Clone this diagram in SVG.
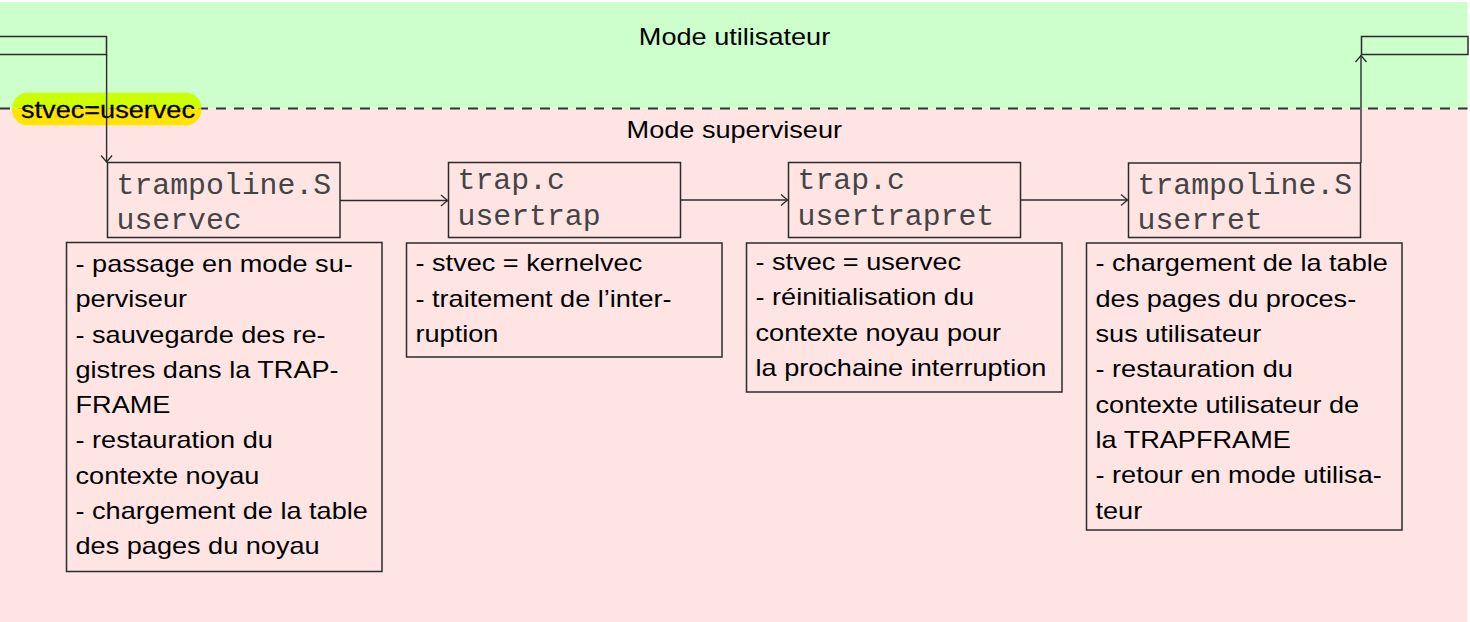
<svg xmlns="http://www.w3.org/2000/svg" width="1470" height="622" viewBox="0 0 1470 622">
<style>
.t{font-family:"Liberation Sans",Arial,Helvetica,sans-serif;font-size:24px;fill:#000}
.m{font-family:"Liberation Mono","Courier New",monospace;font-size:29.8px;fill:#444}
.box{fill:none;stroke:#2b2b2b;stroke-width:1.5}
.cn{fill:none;stroke:#2b2b2b;stroke-width:1.4}
.lab{font-family:"Liberation Sans",Arial,Helvetica,sans-serif;font-size:24px;fill:#000;stroke:#000;stroke-width:0.25}
</style>
<defs>
<marker id="ah" viewBox="-9 -7 11 14" markerWidth="11" markerHeight="14" refX="0" refY="0" orient="auto" markerUnits="userSpaceOnUse">
<path d="M-6.5,-5.5 L0,0 L-6.5,5.5" fill="none" stroke="#2b2b2b" stroke-width="1.3"/>
</marker>
<clipPath id="labclip"><rect x="12" y="92.5" width="189.5" height="33" rx="16" ry="16"/></clipPath>
</defs>

<g id="backgrounds">
<rect x="0" y="2" width="1467.5" height="106.5" fill="#ccffcc"/>
<rect x="0" y="108.5" width="1467.5" height="513.5" fill="#ffe4e4"/>
<line x1="0" y1="108.5" x2="1467.5" y2="108.5" stroke="#333" stroke-width="1.8" stroke-dasharray="10 8"/>
</g>

<g id="title-user"><g transform="translate(734.5,0) scale(1.13,1)"><text class="t" x="0" y="45.5" text-anchor="middle">Mode utilisateur</text></g></g>
<g id="title-super"><g transform="translate(734.3,0) scale(1.13,1)"><text class="t" x="0" y="138.3" text-anchor="middle">Mode superviseur</text></g></g>

<g id="user-left"><rect class="box" x="-1" y="36.5" width="107.5" height="18"/></g>
<g id="user-right"><rect class="box" x="1361.5" y="36.5" width="106.5" height="18"/></g>

<g id="label-stvec">
<g clip-path="url(#labclip)">
<rect x="12" y="92.5" width="189.5" height="16" fill="#ccff00"/>
<rect x="12" y="108.5" width="189.5" height="17" fill="#ffe400"/>
</g>
</g>

<g id="connectors">
<line class="cn" x1="106.6" y1="54.5" x2="106.6" y2="162" marker-end="url(#ah)"/>
<line class="cn" x1="340" y1="200.5" x2="447.5" y2="200.5" marker-end="url(#ah)"/>
<line class="cn" x1="680.5" y1="200" x2="787.5" y2="200" marker-end="url(#ah)"/>
<line class="cn" x1="1020.5" y1="200" x2="1127.5" y2="200" marker-end="url(#ah)"/>
<line class="cn" x1="1361" y1="163" x2="1361" y2="55.5" marker-end="url(#ah)"/>
</g>

<g id="label-stvec-text"><g transform="translate(21,0) scale(1.13,1)"><text class="lab" x="0" y="118.3">stvec=uservec</text></g></g>

<g id="node-uservec">
<rect class="box" x="107.5" y="162.5" width="232.5" height="75"/>
<text class="m" x="116.5" y="193.5">trampoline.S</text>
<text class="m" x="116.5" y="228.5">uservec</text>
</g>
<g id="node-usertrap">
<rect class="box" x="448.5" y="162.5" width="232" height="75"/>
<text class="m" x="457.5" y="189">trap.c</text>
<text class="m" x="457.5" y="224.5">usertrap</text>
</g>
<g id="node-usertrapret">
<rect class="box" x="788.5" y="162.5" width="232" height="75"/>
<text class="m" x="797.5" y="189">trap.c</text>
<text class="m" x="797.5" y="224.5">usertrapret</text>
</g>
<g id="node-userret">
<rect class="box" x="1128.5" y="163" width="232" height="74.5"/>
<text class="m" x="1137.5" y="193.5">trampoline.S</text>
<text class="m" x="1137.5" y="228.5">userret</text>
</g>

<g id="desc-uservec">
<rect class="box" x="66.5" y="242.5" width="315.5" height="329"/>
<g transform="translate(75.5,0) scale(1.13,1)">
<text class="t" x="0" y="272">- passage en mode su-</text>
<text class="t" x="0" y="307.3">perviseur</text>
<text class="t" x="0" y="342.6">- sauvegarde des re-</text>
<text class="t" x="0" y="377.9">gistres dans la TRAP-</text>
<text class="t" x="0" y="413.2">FRAME</text>
<text class="t" x="0" y="448.5">- restauration du</text>
<text class="t" x="0" y="483.8">contexte noyau</text>
<text class="t" x="0" y="519.1">- chargement de la table</text>
<text class="t" x="0" y="554.4">des pages du noyau</text>
</g>
</g>

<g id="desc-usertrap">
<rect class="box" x="406.5" y="243" width="315.5" height="114"/>
<g transform="translate(415.5,0) scale(1.13,1)">
<text class="t" x="0" y="271.5">- stvec = kernelvec</text>
<text class="t" x="0" y="306.8">- traitement de l’inter-</text>
<text class="t" x="0" y="342.1">ruption</text>
</g>
</g>

<g id="desc-usertrapret">
<rect class="box" x="746.5" y="243" width="315.5" height="149"/>
<g transform="translate(755.5,0) scale(1.13,1)">
<text class="t" x="0" y="270">- stvec = uservec</text>
<text class="t" x="0" y="305.3">- réinitialisation du</text>
<text class="t" x="0" y="340.6">contexte noyau pour</text>
<text class="t" x="0" y="375.9">la prochaine interruption</text>
</g>
</g>

<g id="desc-userret">
<rect class="box" x="1086.5" y="243" width="315.5" height="287"/>
<g transform="translate(1095.5,0) scale(1.13,1)">
<text class="t" x="0" y="271.5">- chargement de la table</text>
<text class="t" x="0" y="306.8">des pages du proces-</text>
<text class="t" x="0" y="342.1">sus utilisateur</text>
<text class="t" x="0" y="377.4">- restauration du</text>
<text class="t" x="0" y="412.7">contexte utilisateur de</text>
<text class="t" x="0" y="448">la TRAPFRAME</text>
<text class="t" x="0" y="483.3">- retour en mode utilisa-</text>
<text class="t" x="0" y="518.6">teur</text>
</g>
</g>
</svg>
